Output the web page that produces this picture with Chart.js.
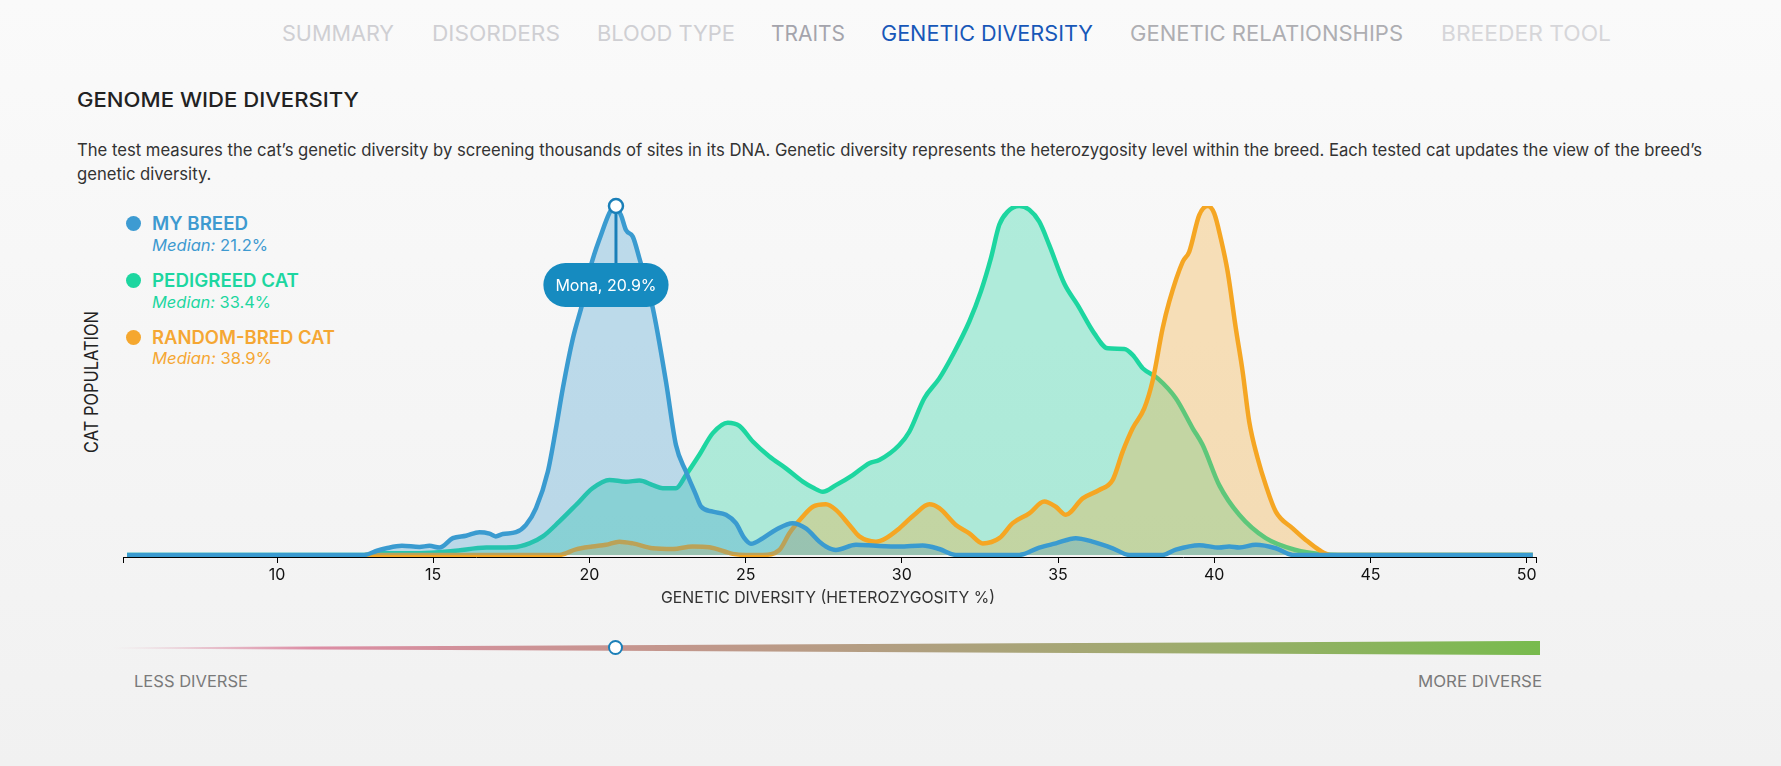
<!DOCTYPE html>
<html>
<head>
<meta charset="utf-8">
<title>Genome wide diversity</title>
<script src="https://cdn.jsdelivr.net/npm/chart.js@4.4.1/dist/chart.umd.min.js"></script>
<style>
  html, body { margin: 0; padding: 0; }
  body {
    width: 1781px; height: 766px; overflow: hidden; position: relative;
    background: linear-gradient(#fafafa, #f1f1f1);
    font-family: "Inter", "Open Sans", sans-serif;
  }
  .t { position: absolute; white-space: nowrap; line-height: 1; transform-origin: 0 50%; }
  .nav { font-size: 21px; top: 23px; }
  .dot { position: absolute; width: 15px; height: 15px; border-radius: 50%; }
  #chartWrap { position: absolute; left: 0; top: 190px; width: 1781px; height: 420px; }
  #slider {
    position: absolute; left: 113px; top: 641px; width: 1427px; height: 14px;
    background: linear-gradient(90deg, rgba(225,140,165,0) 0%, #dc8ca4 14%, #c6958f 36%, #b09f80 56%, #9fab6e 74%, #78bb4e 100%);
    clip-path: polygon(0 46%, 100% 0, 100% 100%, 0 54%);
  }
  #knob {
    position: absolute; top: 640px; width: 11px; height: 11px; border-radius: 50%;
    background: #fff; border: 2.5px solid #1a7fb8;
  }
</style>
</head>
<body>

<!-- navigation -->
<div class="t nav" style="left:282px;color:#cfcfd3" data-w="112">SUMMARY</div>
<div class="t nav" style="left:432px;color:#cfcfd3" data-w="128">DISORDERS</div>
<div class="t nav" style="left:597px;color:#cfcfd3" data-w="138">BLOOD TYPE</div>
<div class="t nav" style="left:771px;color:#a4a4ac" data-w="74">TRAITS</div>
<div class="t nav" style="left:881px;color:#1757b8" data-w="212">GENETIC DIVERSITY</div>
<div class="t nav" style="left:1130px;color:#aeaeb2" data-w="273">GENETIC RELATIONSHIPS</div>
<div class="t nav" style="left:1441px;color:#d6d6d9" data-w="170">BREEDER TOOL</div>

<div class="t" style="left:77px;top:89.5px;font-size:20px;font-weight:500;color:#222" data-w="282">GENOME WIDE DIVERSITY</div>
<div class="t" id="p1" style="left:77px;top:141.5px;font-size:17px;color:#333" data-w="1625">The test measures the cat’s genetic diversity by screening thousands of sites in its DNA. Genetic diversity represents the heterozygosity level within the breed. Each tested cat updates the view of the breed’s</div>
<div class="t" id="p2" style="left:77px;top:165.5px;font-size:17px;color:#333">genetic diversity.</div>

<!-- legend -->
<div class="dot" style="left:125.5px;top:215.5px;background:#3d9bd2"></div>
<div class="t" style="left:152px;top:214.5px;font-size:18px;font-weight:600;color:#3e9ad0" data-w="96">MY BREED</div>
<div class="t" style="left:152px;top:237px;font-size:16px;color:#3e9ad0" data-w="116"><i>Median:</i> 21.2%</div>
<div class="dot" style="left:125.5px;top:272.5px;background:#1dd6a0"></div>
<div class="t" style="left:152px;top:271.5px;font-size:18px;font-weight:600;color:#1dd6a0" data-w="147">PEDIGREED CAT</div>
<div class="t" style="left:152px;top:294px;font-size:16px;color:#1dd6a0" data-w="119"><i>Median:</i> 33.4%</div>
<div class="dot" style="left:125.5px;top:329.5px;background:#f5a72e"></div>
<div class="t" style="left:152px;top:328.5px;font-size:18px;font-weight:600;color:#f5a733" data-w="183">RANDOM-BRED CAT</div>
<div class="t" style="left:152px;top:350px;font-size:16px;color:#f5a733" data-w="120"><i>Median:</i> 38.9%</div>

<div id="yTitle" class="t" style="left:91px;top:382px;font-size:19px;color:#222;transform-origin:50% 50%">CAT POPULATION</div>

<div id="chartWrap"><canvas id="myChart" width="1781" height="420"></canvas></div>

<div class="t" style="left:661px;top:589px;font-size:16.5px;color:#333" data-w="334">GENETIC DIVERSITY (HETEROZYGOSITY %)</div>

<div id="slider"></div>
<div id="knob"></div>
<div class="t" style="left:134px;top:673px;font-size:16px;color:#7a7a7a" data-w="114">LESS DIVERSE</div>
<div class="t" style="left:1418px;top:673px;font-size:16px;color:#7a7a7a" data-w="124">MORE DIVERSE</div>

<script>
"use strict";

//Axelns gränser och tickvärden
const axisMin = 5.07;
const axisMax = 50.3;
const tickValues = [10, 15, 20, 25, 30, 35, 40, 45, 50];

//Mona, den testade katten
const monaName = "Mona";
const monaValue = 20.85;

//My breed (andel av toppen, 0-100)
const breedX = [5.2, 12.8, 13.2, 13.5, 14.0, 14.56, 14.88, 15.2, 15.63, 16.05, 16.48, 16.8, 17.0, 17.23, 17.65, 17.97, 18.29, 18.67, 18.93, 19.15, 19.47, 19.79, 20.05, 20.37, 20.64, 20.8, 21.01, 21.17, 21.39, 21.6, 22.03, 22.45, 22.77, 23.09, 23.41, 23.57, 23.95, 24.37, 24.69, 24.96, 25.17, 25.55, 25.97, 26.5, 26.93, 27.36, 27.57, 27.89, 28.53, 29.17, 29.92, 30.67, 31.2, 31.73, 33.76, 34.4, 34.93, 35.57, 36.1, 36.75, 37.28, 38.35, 38.77, 39.52, 40.16, 40.48, 40.8, 41.33, 41.97, 42.51, 50.2];
const breedY = [0, 0, 1.2, 1.9, 2.6, 2.3, 2.6, 2.1, 4.8, 5.5, 6.5, 6.1, 5.3, 6.0, 6.5, 8.6, 13.4, 23.9, 36.3, 47.8, 62, 72.6, 83, 91.7, 98, 100, 97.4, 93.1, 91.2, 85, 70.7, 49.7, 31.5, 23.9, 17.2, 13.9, 12.4, 11.5, 9.1, 4.8, 3.2, 4.8, 7.2, 9.1, 7.6, 3.8, 2.4, 1.4, 2.9, 2.6, 2.4, 2.7, 1.7, 0, 0, 2.1, 3.3, 4.8, 3.8, 1.9, 0, 0, 1.5, 2.8, 2.1, 2.4, 2.1, 2.9, 1.9, 0, 0];

//Pedigreed cat
const pedigreeX = [5.2, 12.8, 13.3, 14.56, 15.63, 16.7, 17.55, 18.08, 18.51, 19.04, 19.57, 20.1, 20.64, 21.17, 21.6, 22.03, 22.35, 22.77, 23.09, 23.52, 23.95, 24.43, 24.8, 25.23, 25.76, 26.29, 26.83, 27.15, 27.47, 27.89, 28.43, 28.96, 29.28, 29.92, 30.24, 30.72, 31.2, 31.63, 32.16, 32.53, 32.85, 33.12, 33.39, 33.76, 34.08, 34.4, 34.72, 35.2, 35.63, 36.16, 36.59, 37.12, 37.39, 37.71, 38.19, 38.77, 39.31, 39.63, 40.16, 40.8, 41.65, 42.61, 43.47, 44.0, 50.2];
const pedigreeY = [0, 0, 0.5, 0.5, 1.1, 2.1, 2.2, 3.3, 5.3, 9.6, 14.3, 19.1, 21.5, 21, 21.3, 20, 19.1, 19.1, 22.9, 28.7, 34.9, 37.9, 37, 32.5, 28.2, 24.8, 21, 19.3, 18.1, 20, 22.9, 26.3, 27.2, 31.5, 35.3, 44.9, 50.6, 57.3, 66.9, 75.5, 85, 94.6, 98.4, 100, 98.9, 95.5, 88.8, 77.8, 71.6, 63.5, 59.2, 59, 57.3, 53.5, 50.6, 44.9, 36.3, 31.5, 20, 11.5, 4.8, 1.4, 0.2, 0, 0];

//Random-bred cat
const randomX = [12.8, 19.04, 19.57, 20.1, 20.53, 20.96, 21.39, 22.03, 22.67, 23.3, 23.84, 24.59, 25.0, 25.55, 26.08, 26.4, 26.83, 27.15, 27.57, 27.89, 28.32, 28.64, 29.17, 29.49, 29.92, 30.4, 30.88, 31.2, 31.73, 32.16, 32.59, 33.12, 33.55, 34.08, 34.56, 34.93, 35.25, 35.79, 36.32, 36.75, 37.07, 37.39, 37.76, 38.03, 38.35, 38.56, 38.99, 39.2, 39.52, 39.79, 40.0, 40.21, 40.43, 40.69, 40.91, 41.12, 41.39, 41.65, 41.97, 42.51, 42.93, 43.36, 43.73, 50.2];
const randomY = [0, 0, 1.6, 2.4, 2.9, 3.8, 3.3, 1.9, 1.7, 2.4, 2.2, 0.3, 0, 0, 1.4, 6.2, 11, 13.8, 14.5, 12.9, 8.6, 5.3, 3.8, 4.8, 7.6, 11.5, 14.5, 13.4, 8.6, 6.2, 3.3, 4.8, 9.1, 11.9, 15.3, 13.8, 11.5, 16.2, 18.6, 21.5, 29.6, 36.3, 42, 50, 65, 72.6, 84, 86.9, 97.4, 100, 97.9, 90.7, 81.2, 65, 52.5, 38.2, 27.7, 20, 12.4, 7.6, 4.3, 1.4, 0, 0];

//Gör om x/y-listor till punkter
function toPoints(xs, ys) {
  return xs.map((x, i) => ({ x: x, y: ys[i] }));
}

//Skalar texter så att bredden stämmer
function fitTexts() {
  document.querySelectorAll('[data-w]').forEach(el => {
    const w = el.getBoundingClientRect().width;
    el.style.transform = 'scaleX(' + (Number(el.dataset.w) / w) + ')';
  });
  const p1 = document.getElementById('p1');
  document.getElementById('p2').style.transform = p1.style.transform;

  const yt = document.getElementById('yTitle');
  const w = yt.getBoundingClientRect().width;
  yt.style.transform = 'translate(-50%, -50%) rotate(-90deg) scaleX(' + (142 / w) + ')';
}

//Plugin som ritar markören och etiketten för Mona
const monaMarker = {
  id: 'monaMarker',
  afterDatasetsDraw(chart) {
    const ctx = chart.ctx;
    const x = chart.scales.x.getPixelForValue(monaValue);
    const y = chart.scales.y.getPixelForValue(chart.scales.y.max);
    const label = monaName + ', ' + monaValue.toFixed(1) + '%';

    ctx.save();
    ctx.font = '16px Inter, "Open Sans", sans-serif';
    const tw = ctx.measureText(label).width;
    const pw = tw + 24;
    const ph = 44;
    const px = x - 10 - pw / 2;
    const py = y + 57;

    ctx.strokeStyle = '#1a7fb8';
    ctx.lineWidth = 3;
    ctx.beginPath();
    ctx.moveTo(x, y);
    ctx.lineTo(x, py + 2);
    ctx.stroke();

    ctx.fillStyle = '#168bc0';
    ctx.beginPath();
    ctx.roundRect(px, py, pw, ph, ph / 2);
    ctx.fill();

    ctx.fillStyle = '#ffffff';
    ctx.textAlign = 'center';
    ctx.textBaseline = 'middle';
    ctx.fillText(label, px + pw / 2, py + ph / 2 + 1);

    ctx.beginPath();
    ctx.arc(x, y, 7, 0, Math.PI * 2);
    ctx.fillStyle = '#ffffff';
    ctx.fill();
    ctx.lineWidth = 2.5;
    ctx.strokeStyle = '#1a7fb8';
    ctx.stroke();
    ctx.restore();
  }
};

function drawDiagram() {
  const ctx = document.getElementById('myChart');

  const chart = new Chart(ctx, {
    type: 'line',
    data: {
      datasets: [{
        label: 'MY BREED',
        data: toPoints(breedX, breedY),
        borderColor: '#3a9bd0',
        backgroundColor: 'rgba(58,155,208,0.31)',
        order: 0
      }, {
        label: 'RANDOM-BRED CAT',
        data: toPoints(randomX, randomY),
        borderColor: '#f5a623',
        backgroundColor: 'rgba(245,166,35,0.3)',
        order: 1
      }, {
        label: 'PEDIGREED CAT',
        data: toPoints(pedigreeX, pedigreeY),
        borderColor: '#1dd6a0',
        backgroundColor: 'rgba(29,214,160,0.33)',
        order: 2
      }]
    },
    options: {
      responsive: false,
      animation: false,
      devicePixelRatio: 1,
      layout: { padding: { left: 123, right: 245, top: 16, bottom: 23 } },
      elements: {
        line: { borderWidth: 4.5, fill: 'origin', cubicInterpolationMode: 'monotone' },
        point: { radius: 0 }
      },
      plugins: { legend: { display: false }, tooltip: { enabled: false } },
      scales: {
        x: {
          type: 'linear',
          min: axisMin,
          max: axisMax,
          afterBuildTicks: s => { s.ticks = [axisMin, ...tickValues, axisMax].map(v => ({ value: v })); },
          afterFit: s => { s.height = 30; },
          ticks: {
            autoSkip: false,
            maxRotation: 0,
            padding: 3,
            color: '#111',
            font: { family: 'Inter', size: 16 },
            callback: v => tickValues.includes(v) ? String(v) : ''
          },
          grid: { drawOnChartArea: false, drawTicks: true, tickLength: 6, color: '#000', lineWidth: 1 },
          border: { display: true, color: '#000', width: 1 }
        },
        y: { display: false, min: -0.6, max: 100 }
      }
    },
    plugins: [monaMarker]
  });

  //Placera reglaget vid Monas värde
  const kx = chart.scales.x.getPixelForValue(monaValue);
  document.getElementById('knob').style.left = (kx - 8) + 'px';
}

fitTexts();
drawDiagram();
</script>
</body>
</html>
